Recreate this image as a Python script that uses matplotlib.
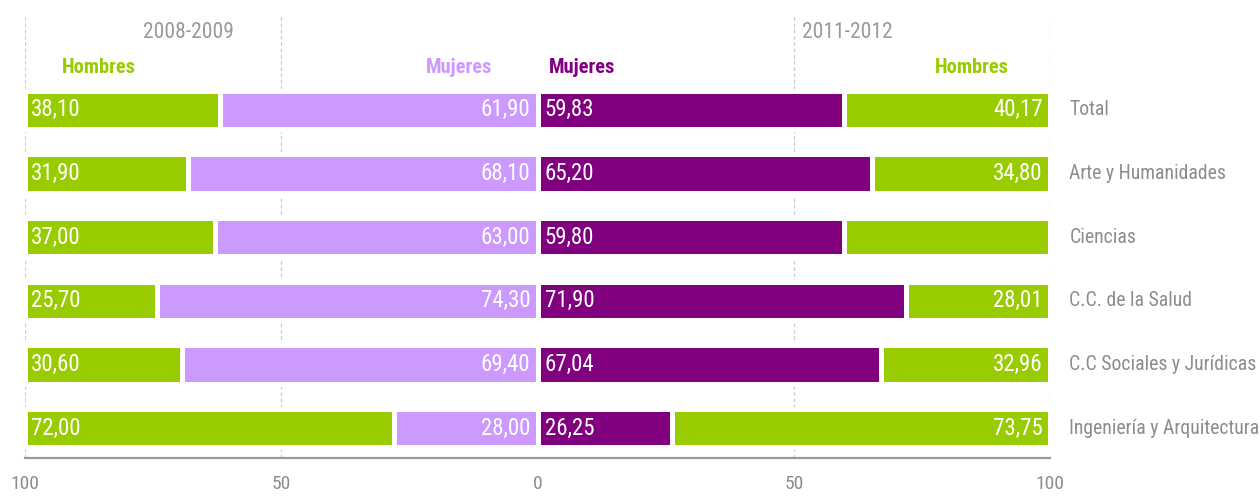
import matplotlib
matplotlib.use("Agg")
import matplotlib.pyplot as plt
from matplotlib import font_manager

# data
categories = ["Total", "Arte y Humanidades", "Ciencias", "C.C. de la Salud",
              "C.C Sociales y Jurídicas", "Ingeniería y Arquitectura"]
hombres_0809 = [38.10, 31.90, 37.00, 25.70, 30.60, 72.00]
mujeres_0809 = [61.90, 68.10, 63.00, 74.30, 69.40, 28.00]
mujeres_1112 = [59.83, 65.20, 59.80, 71.90, 67.04, 26.25]
hombres_1112 = [40.17, 34.80, 40.20, 28.01, 32.96, 73.75]
hombres_1112_labels = ["40,17", "34,80", "", "28,01", "32,96", "73,75"]
tick_values = [-100, -50, 0, 50, 100]
tick_labels = ["100", "50", "0", "50", "100"]

GREEN = "#99cc00"
LAVENDER = "#cc99ff"
PURPLE = "#800080"
GRAY = "#8c8c8c"

available = {f.name for f in font_manager.fontManager.ttflist}
families = [f for f in ["Roboto Condensed", "Liberation Sans Narrow", "DejaVu Sans"] if f in available]
plt.rcParams["font.family"] = families


def fmt(v):
    return f"{v:.2f}".replace(".", ",")


fig = plt.figure(figsize=(12.6, 4.97), dpi=100)
ax = fig.add_axes([25 / 1260, 39 / 497, 1025 / 1260, 443 / 497])

y = list(range(len(categories)))
h = 0.6
kw = dict(height=h, edgecolor="white", linewidth=3.6, zorder=2)

left_h = [-100] * len(y)
ax.barh(y, hombres_0809, left=left_h, color=GREEN, **kw)
ax.barh(y, mujeres_0809, left=[-m for m in mujeres_0809], color=LAVENDER, **kw)
ax.barh(y, mujeres_1112, left=0, color=PURPLE, **kw)
ax.barh(y, hombres_1112, left=mujeres_1112, color=GREEN, **kw)

lab = dict(color="white", fontsize=16.5, va="center", zorder=3)
for i in y:
    ax.text(-100 + 1.2, i, fmt(hombres_0809[i]), ha="left", **lab)
    ax.text(-1.4, i, fmt(mujeres_0809[i]), ha="right", **lab)
    ax.text(1.4, i, fmt(mujeres_1112[i]), ha="left", **lab)
    ax.text(100 - 1.4, i, hombres_1112_labels[i], ha="right", **lab)
    ax.text(103.8, i, categories[i], ha="left", va="center", color=GRAY,
            fontsize=14.2, clip_on=False)

for gx in [-100, -50, 50, 100]:
    ax.axvline(gx, color="#cccccc", linewidth=0.9, linestyle=(0, (3, 2)), zorder=1)

# headers
ax.text(-59.2, -1.22, "2008-2009", ha="right", va="center", color="#999999", fontsize=15.5)
ax.text(51.7, -1.22, "2011-2012", ha="left", va="center", color="#999999", fontsize=15.5)
hdr = dict(va="center", fontsize=14.8, fontweight="bold")
ax.text(-92.8, -0.66, "Hombres", ha="left", color=GREEN, **hdr)
ax.text(-8.8, -0.66, "Mujeres", ha="right", color=LAVENDER, **hdr)
ax.text(2.3, -0.66, "Mujeres", ha="left", color=PURPLE, **hdr)
ax.text(91.9, -0.66, "Hombres", ha="right", color=GREEN, **hdr)

ax.set_xlim(-100, 100)
ax.set_ylim(5.47, -1.49)
ax.set_xticks(tick_values)
ax.set_xticklabels(tick_labels, color=GRAY, fontsize=14)
ax.tick_params(axis="x", length=0, pad=12)
ax.set_yticks([])
for s in ["top", "left", "right"]:
    ax.spines[s].set_visible(False)
ax.spines["bottom"].set_color("#999999")
ax.spines["bottom"].set_linewidth(1.6)

fig.savefig("out.png", dpi=100)
